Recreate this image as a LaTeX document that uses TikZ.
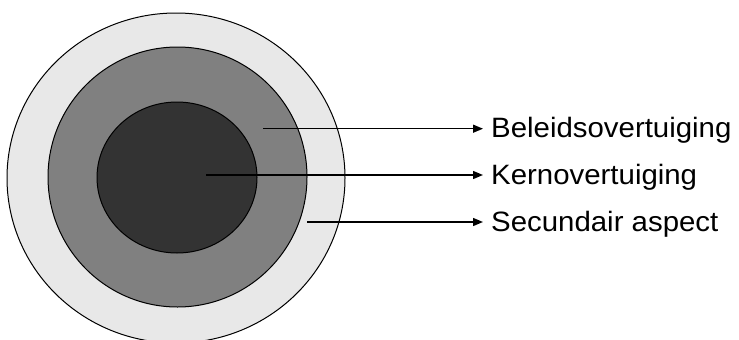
\documentclass[tikz,border=0pt]{standalone}
\usepackage{fontspec}
\setmainfont{Liberation Sans}
\newfontfamily\lblfont[FakeStretch=1.05]{Liberation Sans}
\usetikzlibrary{arrows.meta}
\definecolor{ringouter}{HTML}{E8E8E8}
\definecolor{ringmid}{HTML}{808080}
\definecolor{ringinner}{HTML}{333333}
\tikzset{
  ring/.style={draw=black, line width=1pt},
  pointer/.style={draw=black, line width=1.4pt, shorten >=8pt, -{Triangle[length=10pt,width=8pt]}},
  lbl/.style={anchor=base west, inner sep=0pt, font=\lblfont\fontsize{28}{34}\selectfont}
}
\begin{document}
\begin{tikzpicture}[x=1pt,y=-1pt]
\useasboundingbox (0,0) rectangle (739,340);
\begin{scope}
\clip (0,0) rectangle (739,340);
\path[ring, fill=ringouter] (176,178) ellipse [x radius=169, y radius=165];
\path[ring, fill=ringmid] (177.5,177) ellipse [x radius=129.5, y radius=130];
\path[ring, fill=ringinner] (177,177.5) ellipse [x radius=80, y radius=75.5];
\end{scope}
\coordinate (sBel) at (263,128.7);
\coordinate (sKern) at (206,175);
\coordinate (sSec) at (307,222);
\node[lbl] (tBel) at (491,137.5) {Beleidsovertuiging};
\node[lbl] (tKern) at (491,184) {Kernovertuiging};
\node[lbl] (tSec) at (491,231) {Secundair aspect};
\draw[pointer] (sBel) -- (sBel -| tBel.west);
\draw[pointer] (sKern) -- (sKern -| tKern.west);
\draw[pointer] (sSec) -- (sSec -| tSec.west);
\end{tikzpicture}
\end{document}
